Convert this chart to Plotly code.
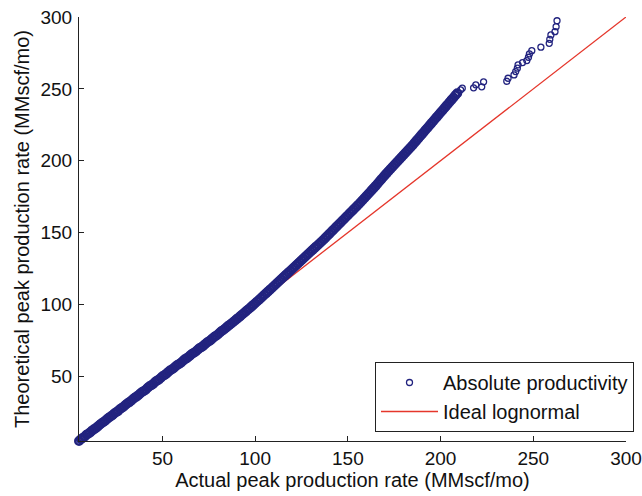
import plotly.graph_objects as go

# Q-Q data: actual (x) vs theoretical (y) peak production rate, MMscf/mo
actual_low = [5, 6, 7, 8, 9, 10, 11, 12, 13, 14, 15, 16, 17, 18, 19, 20, 21, 22, 23, 24,
              25, 26, 27, 28, 29, 30, 31, 32, 33, 34, 35, 36, 37, 38, 39, 40, 41, 42, 43, 44,
              45, 46, 47, 48, 49, 50, 51, 52, 53, 54, 55, 56, 57, 58, 59, 60, 61, 62, 63, 64,
              65, 66, 67, 68, 69, 70, 71, 72, 73, 74, 75, 76, 77, 78, 79, 80, 81, 82, 83, 84,
              85, 86, 87, 88, 89, 90, 91, 92, 93, 94, 95, 96, 97, 98, 99, 100, 101, 102, 103,
              104, 105, 106, 107, 108, 109, 110]
theory_low = [5.0, 6.2, 7.1, 8.0, 9.3, 10.1, 11.0, 12.2, 13.1, 13.9, 15.0, 16.1, 17.2, 18.0,
              18.9, 20.1, 21.2, 22.0, 22.9, 24.1, 25.0, 25.8, 27.1, 28.0, 28.8, 30.0, 31.1,
              31.9, 32.8, 34.0, 35.1, 35.9, 36.8, 38.0, 39.1, 39.8, 40.7, 42.0, 43.1, 43.8,
              44.7, 46.0, 47.0, 47.7, 48.8, 50.0, 50.8, 51.7, 52.9, 54.0, 54.7, 55.6, 56.8,
              57.9, 58.6, 59.5, 60.7, 61.8, 62.5, 63.4, 64.6, 65.7, 66.4, 67.3, 68.5, 69.6,
              70.3, 71.2, 72.4, 73.5, 74.3, 75.2, 76.4, 77.5, 78.3, 79.3, 80.5, 81.6, 82.4,
              83.4, 84.6, 85.6, 86.6, 87.6, 88.7, 89.8, 90.8, 91.9, 93.0, 94.1, 95.2, 96.3,
              97.4, 98.5, 99.7, 100.8, 102.0, 103.1, 104.3, 105.5, 106.7, 107.9, 109.1,
              110.3, 111.5, 112.7]

actual_high = [111, 112, 113, 114, 115, 116, 117, 118, 119, 120, 121, 122, 123, 124, 125,
               126, 127, 128, 129, 130, 131, 132, 133, 134, 135, 136, 137, 138, 139, 140,
               141, 142, 143, 144, 145, 146, 147, 148, 149, 150, 151, 152, 153, 154, 155,
               156, 157, 158, 159, 160, 161, 162, 163, 164, 165, 166, 167, 168, 169, 170,
               171, 172, 173, 174, 175, 176, 177, 178, 179, 180, 181, 182, 183, 184, 185,
               186, 187, 188, 189, 190, 191, 192, 193, 194, 195, 196, 197, 198, 199, 200,
               201, 202, 203, 204, 205, 206, 207, 208, 209]
theory_high = [113.9, 115.1, 116.3, 117.5, 118.7, 119.9, 121.1, 122.3, 123.5, 124.7,
               125.9, 127.1, 128.3, 129.5, 130.8, 132.0, 133.2, 134.4, 135.6, 136.8,
               138.0, 139.2, 140.4, 141.6, 142.8, 144.0, 145.2, 146.5, 147.8, 149.1,
               150.4, 151.7, 153.0, 154.3, 155.6, 156.9, 158.2, 159.5, 160.8, 162.1,
               163.4, 164.7, 166.0, 167.3, 168.6, 169.9, 171.3, 172.7, 174.1, 175.5,
               176.9, 178.3, 179.7, 181.1, 182.5, 184.0, 185.5, 187.0, 188.5, 190.0,
               191.4, 192.8, 194.2, 195.6, 197.0, 198.4, 199.8, 201.2, 202.6, 204.0,
               205.4, 206.8, 208.2, 209.6, 211.0, 212.5, 214.0, 215.5, 217.0, 218.5,
               220.0, 221.5, 223.0, 224.5, 226.0, 227.5, 229.0, 230.5, 232.0, 233.5,
               235.0, 236.5, 238.0, 239.5, 241.0, 242.5, 244.0, 245.5, 247.0]

actual_tail = [210.8, 211.7, 217.8, 219.0, 222.2, 223.2, 235.7, 236.4, 239.6, 240.5,
               241.4, 241.8, 244.2, 246.5, 247.4, 247.9, 249.2, 254.1, 258.6, 258.9,
               259.5, 261.7, 262.3, 262.8, 263.7]
theory_tail = [249.3, 250.5, 250.7, 252.8, 251.4, 254.9, 255.3, 257.4, 259.7, 262.0,
               264.4, 266.7, 268.3, 269.7, 272.0, 274.3, 276.6, 279.0, 281.7, 284.5,
               287.5, 289.8, 293.3, 297.4, 300.5]

ideal_x = [5, 300]
ideal_y = [5, 300]

x_ticks = [50, 100, 150, 200, 250, 300]
y_ticks = [50, 100, 150, 200, 250, 300]

FONT = "Liberation Sans, Arial, Helvetica, sans-serif"
BLUE = "#22237f"

fig = go.Figure()
fig.add_trace(go.Scatter(
    x=ideal_x, y=ideal_y, mode="lines", name="Ideal lognormal",
    line=dict(color="#e5362b", width=1.3), legendrank=2,
))
# dense part: overlapping circles form a solid band
fig.add_trace(go.Scatter(
    x=actual_low + actual_high, y=theory_low + theory_high, mode="markers",
    name="Absolute productivity", showlegend=False,
    marker=dict(symbol="circle-open", size=7.5, color=BLUE,
                line=dict(width=2.5, color=BLUE)),
    cliponaxis=False,
))
# sparse tail: individual circles
fig.add_trace(go.Scatter(
    x=actual_tail, y=theory_tail, mode="markers", name="Absolute productivity",
    marker=dict(symbol="circle-open", size=6, color=BLUE,
                line=dict(width=1.3, color=BLUE)),
    cliponaxis=False, legendrank=1,
))

axis_common = dict(
    showline=True, linecolor="#222222", linewidth=1, mirror=False,
    ticks="inside", ticklen=5, tickcolor="#222222", tickwidth=1,
    showgrid=False, zeroline=False, automargin=False,
    tickfont=dict(family=FONT, size=19, color="#111111"),
)

fig.update_layout(
    width=642, height=496,
    margin=dict(l=79, r=16, t=17, b=55, autoexpand=False),
    paper_bgcolor="white", plot_bgcolor="white",
    font=dict(family=FONT, size=19, color="#111111"),
    xaxis=dict(range=[5, 300], tickvals=x_ticks, ticklabelstandoff=0,
               title=dict(text="Actual peak production rate (MMscf/mo)",
                          font=dict(family=FONT, size=20), standoff=4),
               **axis_common),
    yaxis=dict(range=[5, 300], tickvals=y_ticks, ticklabelstandoff=2,
               title=dict(text="Theoretical peak production rate (MMscf/mo)",
                          font=dict(family=FONT, size=20), standoff=5),
               **axis_common),
    legend=dict(xref="container", yref="container",
                x=634 / 642, xanchor="right", y=(496 - 432) / 496, yanchor="bottom",
                bordercolor="#222222", borderwidth=1, bgcolor="white",
                font=dict(family=FONT, size=20, color="#111111"),
                itemwidth=57, tracegroupgap=0),
    showlegend=True,
)

fig.write_html("out.html")
